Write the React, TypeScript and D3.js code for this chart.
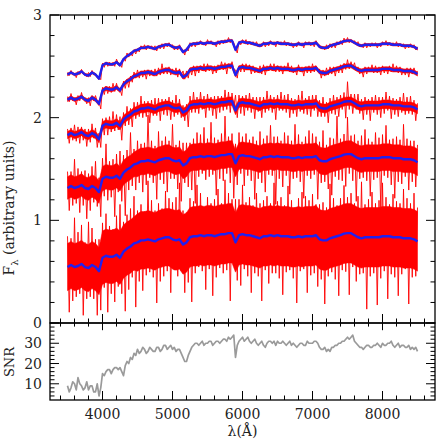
import React from "react";
import * as d3 from "d3";

// smoothed spectrum grid (Angstrom)
const WAVE_START = 3500;
const WAVE_STEP = 50;
// noisy spectrum / SNR grid (Angstrom)
const FINE_STEP = 25;

// smoothed spectrum (blue), top spectrum level
const baseFlux = [
  2.42, 2.44, 2.42, 2.43, 2.45, 2.42, 2.41, 2.44, 2.42, 2.38,
  2.51, 2.53, 2.52, 2.52, 2.54, 2.51, 2.57, 2.60, 2.62, 2.65,
  2.66, 2.68, 2.68, 2.69, 2.68, 2.67, 2.69, 2.70, 2.71, 2.71,
  2.69, 2.68, 2.69, 2.64, 2.66, 2.71, 2.72, 2.72, 2.73, 2.72,
  2.73, 2.73, 2.72, 2.73, 2.74, 2.74, 2.75, 2.75, 2.66, 2.73,
  2.74, 2.73, 2.73, 2.72, 2.71, 2.70, 2.72, 2.72, 2.73, 2.72,
  2.73, 2.72, 2.72, 2.72, 2.71, 2.71, 2.72, 2.71, 2.72, 2.72,
  2.72, 2.73, 2.69, 2.68, 2.68, 2.70, 2.71, 2.72, 2.73, 2.745,
  2.75, 2.75, 2.73, 2.71, 2.70, 2.71, 2.71, 2.71, 2.71, 2.71,
  2.72, 2.72, 2.72, 2.71, 2.71, 2.71, 2.70, 2.70, 2.70, 2.69,
  2.67,
];

// vertical offsets of the five spectra relative to the top one
const spectrumOffsets = [0, -0.245, -0.59, -1.105, -1.875];

// half-width of the dense noise core of each red spectrum, per 500 A block
const coreHalf0 = [0.012, 0.012, 0.012, 0.012, 0.012, 0.012, 0.012, 0.012, 0.012, 0.012, 0.012];
const coreHalf1 = [0.018, 0.02, 0.02, 0.02, 0.02, 0.02, 0.02, 0.02, 0.02, 0.02, 0.02];
const coreHalf2 = [0.035, 0.04, 0.042, 0.042, 0.042, 0.042, 0.042, 0.042, 0.042, 0.042, 0.042];
const coreHalf3 = [0.11, 0.12, 0.13, 0.13, 0.13, 0.13, 0.13, 0.13, 0.13, 0.13, 0.13];
const coreHalf4 = [0.23, 0.26, 0.28, 0.29, 0.29, 0.29, 0.29, 0.29, 0.29, 0.29, 0.29];

// noise excursions of the red spectra, hundredths of a flux unit, 25 A grid;
// even index = upward excursion, odd index = downward excursion
const noise0 = [
  2, 1, 2, 2, 1, 3, 2, 1, 2, 2, 1, 2, 3, 1, 2, 2, 1, 3, 2, 1,
  2, 2, 1, 3, 2, 1, 2, 2, 3, 1, 2, 2, 1, 2, 3, 1, 2, 2, 1, 3,
  1, 2, 2, 1, 3, 2, 1, 2, 2, 1, 3, 2, 1, 2, 2, 3, 1, 2, 2, 1,
  2, 3, 1, 2, 2, 1, 2, 3, 2, 1, 2, 2, 1, 3, 2, 1, 2, 2, 1, 2,
  3, 1, 2, 2, 1, 3, 2, 2, 1, 2, 2, 1, 3, 2, 1, 2, 2, 3, 1, 2,
  2, 1, 3, 2, 1, 2, 2, 1, 3, 2, 2, 1, 2, 3, 1, 2, 2, 1, 2, 3,
  1, 2, 2, 1, 3, 2, 1, 2, 2, 3, 1, 2, 2, 1, 2, 3, 2, 1, 2, 2,
  1, 3, 2, 1, 2, 2, 1, 2, 3, 1, 2, 2, 1, 3, 2, 1, 2, 2, 3, 1,
  3, 2, 1, 2, 2, 1, 3, 2, 1, 2, 2, 3, 1, 2, 2, 1, 2, 3, 1, 2,
  2, 1, 3, 2, 1, 2, 2, 1, 3, 2, 1, 2, 2, 3, 1, 2, 2, 1, 2, 3,
  2,
];
const noise1 = [
  3, 2, 4, 3, 2, 5, 3, 2, 4, 3, 2, 4, 3, 5, 2, 3, 4, 2, 3, 5,
  3, 4, 2, 5, 3, 3, 6, 2, 4, 3, 2, 5, 3, 4, 2, 6, 3, 3, 4, 2,
  5, 3, 2, 4, 3, 6, 2, 4, 3, 3, 5, 2, 4, 3, 7, 3, 2, 4, 3, 5,
  3, 2, 5, 4, 3, 3, 6, 2, 4, 3, 2, 5, 3, 7, 3, 4, 2, 3, 5, 3,
  4, 3, 2, 6, 3, 4, 3, 2, 5, 3, 4, 7, 2, 3, 4, 3, 5, 3, 2, 4,
  3, 5, 4, 2, 3, 6, 3, 4, 2, 3, 5, 3, 4, 6, 3, 2, 4, 3, 5, 3,
  2, 4, 3, 5, 3, 2, 6, 3, 4, 3, 2, 5, 4, 3, 3, 6, 2, 4, 3, 4,
  5, 3, 2, 4, 3, 6, 3, 3, 5, 2, 4, 3, 3, 6, 2, 4, 3, 5, 3, 3,
  6, 3, 4, 2, 5, 3, 3, 4, 2, 6, 3, 4, 3, 2, 5, 3, 4, 3, 3, 5,
  3, 4, 2, 5, 3, 3, 6, 2, 4, 3, 3, 5, 2, 4, 3, 6, 3, 3, 4, 2,
  3,
];
const noise2 = [
  6, 8, 5, 7, 10, 6, 7, 9, 5, 8, 6, 11, 7, 6, 9, 5, 7, 12, 6, 8,
  7, 9, 6, 11, 8, 7, 13, 6, 8, 7, 9, 14, 7, 6, 10, 8, 6, 12, 9, 7,
  8, 6, 12, 9, 7, 8, 6, 15, 8, 7, 11, 6, 9, 13, 7, 8, 6, 10, 8, 14,
  7, 9, 13, 6, 8, 10, 7, 8, 6, 16, 9, 7, 12, 8, 7, 9, 11, 6, 8, 13,
  9, 7, 6, 12, 8, 14, 7, 9, 6, 8, 12, 7, 9, 11, 8, 6, 15, 7, 8, 10,
  6, 13, 8, 7, 10, 9, 7, 14, 8, 6, 9, 11, 7, 8, 13, 6, 8, 9, 7, 15,
  8, 7, 12, 6, 9, 8, 10, 13, 7, 8, 6, 11, 9, 7, 14, 8, 6, 10, 8, 12,
  9, 6, 8, 13, 7, 9, 11, 8, 6, 14, 8, 7, 10, 9, 7, 12, 8, 6, 9, 16,
  19, 8, 7, 12, 9, 6, 11, 8, 7, 13, 8, 9, 6, 15, 8, 7, 10, 9, 8, 12,
  7, 9, 12, 6, 8, 14, 7, 9, 6, 11, 8, 7, 13, 8, 9, 7, 10, 8, 7, 13,
  6,
];
const noise3 = [
  16, 22, 14, 19, 28, 15, 18, 25, 13, 20, 17, 30, 15, 21, 19, 16, 26, 18, 14, 24,
  20, 17, 32, 23, 16, 19, 18, 38, 21, 16, 27, 22, 17, 42, 19, 20, 34, 18, 15, 25,
  22, 19, 17, 30, 18, 23, 44, 17, 20, 21, 16, 36, 28, 19, 18, 24, 21, 33, 17, 20,
  35, 18, 16, 27, 19, 40, 22, 17, 20, 23, 15, 31, 18, 45, 24, 19, 21, 17, 29, 22,
  17, 20, 33, 18, 19, 37, 16, 22, 21, 25, 38, 18, 17, 28, 20, 43, 19, 21, 23, 17,
  18, 30, 22, 19, 16, 24, 20, 41, 17, 20, 27, 23, 18, 34, 21, 17, 30, 19, 20, 46,
  19, 22, 16, 29, 24, 18, 21, 36, 17, 20, 33, 19, 22, 24, 16, 39, 20, 18, 26, 21,
  23, 17, 19, 42, 18, 22, 30, 20, 16, 27, 21, 35, 19, 18, 40, 22, 17, 24, 20, 31,
  36, 19, 18, 26, 21, 44, 17, 20, 23, 18, 28, 22, 19, 37, 16, 21, 25, 19, 20, 48,
  22, 18, 31, 20, 17, 27, 19, 39, 21, 23, 18, 25, 34, 17, 20, 30, 18, 22, 19, 26,
  17,
];
const noise4 = [
  30, 44, 26, 35, 48, 29, 33, 27, 38, 50, 24, 31, 45, 28, 36, 33, 27, 47, 31, 38,
  34, 29, 41, 55, 30, 36, 27, 44, 38, 31, 52, 35, 29, 58, 33, 40, 37, 30, 46, 62,
  31, 38, 35, 49, 28, 34, 57, 32, 39, 36, 30, 60, 35, 41, 29, 37, 45, 33, 38, 54,
  36, 30, 42, 35, 55, 31, 33, 47, 29, 39, 38, 63, 34, 36, 50, 30, 41, 35, 28, 52,
  37, 33, 31, 59, 36, 40, 45, 32, 30, 38, 53, 35, 39, 66, 33, 31, 42, 37, 35, 49,
  48, 34, 32, 40, 37, 56, 30, 36, 43, 38, 34, 61, 35, 33, 39, 46, 31, 37, 52, 36,
  33, 42, 38, 57, 30, 35, 49, 33, 36, 40, 29, 64, 37, 34, 44, 31, 39, 55, 35, 38,
  41, 36, 30, 50, 34, 39, 37, 62, 32, 35, 53, 33, 38, 41, 30, 58, 36, 34, 47, 37,
  35, 60, 39, 33, 31, 45, 40, 36, 55, 34, 32, 70, 37, 38, 44, 35, 33, 66, 36, 40,
  52, 34, 38, 61, 31, 37, 42, 39, 35, 57, 33, 36, 48, 30, 39, 64, 34, 38, 45, 36,
  33,
];

// signal-to-noise ratio (grey, lower panel), 25 A grid
const snrValues = [
  9, 6, 8, 11, 10, 7, 13, 10, 9, 7, 8, 11, 7, 9, 9, 6, 6, 10, 4, 8,
  15, 14, 16, 17, 17, 15, 17, 18, 18, 17, 18, 16, 14, 19, 21, 20, 23, 22, 25, 24,
  27, 25, 26, 28, 27, 25, 26, 28, 27, 26, 26, 28, 28, 26, 27, 29, 29, 27, 28, 29,
  27, 28, 26, 27, 27, 25, 23, 21, 21, 24, 26, 28, 29, 30, 30, 29, 30, 31, 29, 30,
  30, 31, 31, 29, 30, 31, 31, 30, 31, 32, 32, 31, 33, 32, 33, 34, 23, 29, 31, 32,
  33, 31, 32, 33, 31, 30, 31, 32, 30, 29, 30, 31, 29, 28, 30, 31, 31, 30, 31, 29,
  31, 30, 30, 31, 30, 29, 30, 31, 29, 30, 29, 28, 29, 30, 30, 29, 29, 31, 30, 30,
  30, 31, 31, 30, 28, 27, 27, 28, 26, 27, 26, 28, 28, 29, 29, 30, 30, 31, 31, 32,
  33, 32, 33, 34, 31, 30, 29, 28, 28, 27, 28, 29, 29, 28, 28, 29, 29, 30, 29, 28,
  30, 29, 29, 30, 30, 31, 29, 28, 29, 30, 28, 29, 29, 28, 28, 29, 27, 28, 27, 28,
  26,
];

const xTickValues = [4000, 5000, 6000, 7000, 8000];
const yTickValues = [0, 1, 2, 3];
const snrTickValues = [10, 20, 30];

const noiseSets = [noise0, noise1, noise2, noise3, noise4];
const coreSets = [coreHalf0, coreHalf1, coreHalf2, coreHalf3, coreHalf4];

export default function App() {
  const W = 442;
  const H = 444;
  const left = 50, right = 435, top = 15, mid = 323, bottom = 400;

  const x = d3.scaleLinear().domain([3250, 8750]).range([left, right]);
  const y = d3.scaleLinear().domain([0, 3]).range([mid, top]);
  const ys = d3.scaleLinear().domain([2, 40]).range([bottom, mid]);

  const waves = baseFlux.map((_, i) => WAVE_START + i * WAVE_STEP);
  const fineWaves = noise0.map((_, i) => WAVE_START + i * FINE_STEP);
  const ratio = WAVE_STEP / FINE_STEP;

  const font = "'DejaVu Serif', serif";

  const coreOf = (s: number, i: number) => coreSets[s][Math.min(10, Math.floor(i / 10))];

  const coreArea = (s: number) =>
    d3
      .area<number>()
      .x((_, i) => x(waves[i]))
      .y0((f, i) => y(f + spectrumOffsets[s] - coreOf(s, i)))
      .y1((f, i) => y(f + spectrumOffsets[s] + coreOf(s, i)))(baseFlux) || "";

  const noiseLine = (s: number) =>
    d3
      .line<number>()
      .x((_, i) => x(fineWaves[i]))
      .y((n, i) => {
        const f = baseFlux[Math.min(baseFlux.length - 1, Math.floor(i / ratio))];
        return y(f + spectrumOffsets[s] + (i % 2 === 0 ? 1 : -1) * n / 100);
      })(noiseSets[s]) || "";

  const blueLine = (s: number) =>
    d3
      .line<number>()
      .x((_, i) => x(waves[i]))
      .y((f) => y(f + spectrumOffsets[s]))(baseFlux) || "";

  const snrLine =
    d3
      .line<number>()
      .x((_, i) => x(fineWaves[i]))
      .y((v) => ys(v))(snrValues) || "";

  const xMinor = d3.range(3400, 8750, 200);
  const yMinor = d3.range(0, 3.01, 0.2);
  const snrMinor = d3.range(4, 40, 2);

  const major = 9, minor = 4.5;
  const tickStroke = { stroke: "#000", strokeWidth: 1 };

  const ticks: JSX.Element[] = [];
  xMinor.forEach((w, k) => {
    const isMajor = w % 1000 === 0;
    const L = isMajor ? major : minor;
    const px = x(w);
    ticks.push(<line key={"xt" + k} x1={px} x2={px} y1={top} y2={top + L} {...tickStroke} />);
    ticks.push(<line key={"xm" + k} x1={px} x2={px} y1={mid} y2={mid - L} {...tickStroke} />);
    ticks.push(<line key={"xs" + k} x1={px} x2={px} y1={mid} y2={mid + L * 0.8} {...tickStroke} />);
    ticks.push(<line key={"xb" + k} x1={px} x2={px} y1={bottom} y2={bottom - L} {...tickStroke} />);
  });
  yMinor.forEach((v, k) => {
    const isMajor = Math.abs(v - Math.round(v)) < 1e-6;
    const L = isMajor ? major : minor;
    const py = y(v);
    ticks.push(<line key={"yl" + k} x1={left} x2={left + L} y1={py} y2={py} {...tickStroke} />);
    ticks.push(<line key={"yr" + k} x1={right} x2={right - L} y1={py} y2={py} {...tickStroke} />);
  });
  snrMinor.forEach((v, k) => {
    const isMajor = v % 10 === 0;
    const L = isMajor ? major : minor;
    const py = ys(v);
    ticks.push(<line key={"sl" + k} x1={left} x2={left + L} y1={py} y2={py} {...tickStroke} />);
    ticks.push(<line key={"sr" + k} x1={right} x2={right - L} y1={py} y2={py} {...tickStroke} />);
  });

  return (
    <svg
      width={W}
      height={H}
      viewBox={`0 0 ${W} ${H}`}
      style={{ position: "absolute", left: 0, top: 0, background: "#fff" }}
    >
      <defs>
        <clipPath id="mainClip">
          <rect x={left} y={top} width={right - left} height={mid - top} />
        </clipPath>
        <clipPath id="snrClip">
          <rect x={left} y={mid} width={right - left} height={bottom - mid} />
        </clipPath>
      </defs>
      <rect x={0} y={0} width={W} height={H} fill="#fff" />

      <g clipPath="url(#mainClip)">
        {spectrumOffsets.map((_, s) => (
          <g key={"red" + s}>
            <path d={coreArea(s)} fill="#ff0000" stroke="#ff0000" strokeWidth={0.5} />
            <path d={noiseLine(s)} fill="none" stroke="#ff0000" strokeWidth={0.9} strokeLinejoin="miter" />
          </g>
        ))}
        {spectrumOffsets.map((_, s) => (
          <path key={"blue" + s} d={blueLine(s)} fill="none" stroke="#2020f0" strokeWidth={2.4} strokeLinejoin="round" />
        ))}
      </g>

      <g clipPath="url(#snrClip)">
        <path d={snrLine} fill="none" stroke="#9a9a9a" strokeWidth={1.7} strokeLinejoin="round" />
      </g>

      {ticks}

      <rect x={left} y={top} width={right - left} height={mid - top} fill="none" stroke="#000" strokeWidth={1.3} />
      <rect x={left} y={mid} width={right - left} height={bottom - mid} fill="none" stroke="#000" strokeWidth={1.3} />

      {yTickValues.map((v) => (
        <text key={"ytl" + v} x={42} y={y(v) + 5} textAnchor="end" fontFamily={font} fontSize={14} fill="#222">
          {v}
        </text>
      ))}
      {snrTickValues.map((v) => (
        <text key={"stl" + v} x={42} y={ys(v) + 5} textAnchor="end" fontFamily={font} fontSize={14} fill="#222">
          {v}
        </text>
      ))}
      {xTickValues.map((v) => (
        <text key={"xtl" + v} x={x(v)} y={419} textAnchor="middle" fontFamily={font} fontSize={14} fill="#222">
          {v}
        </text>
      ))}

      <text x={x(6000)} y={436} textAnchor="middle" fontFamily={font} fontSize={14} fill="#222">
        λ(Å)
      </text>
      <text transform={`translate(14, 362) rotate(-90)`} textAnchor="middle" fontFamily={font} fontSize={13} fill="#222">
        SNR
      </text>
      <text transform={`translate(14, 208) rotate(-90)`} textAnchor="middle" fontFamily={font} fontSize={14} fill="#222">
        F
        <tspan fontSize={10} dy={4}>λ</tspan>
        <tspan dy={-4}> (arbitrary units)</tspan>
      </text>
    </svg>
  );
}
